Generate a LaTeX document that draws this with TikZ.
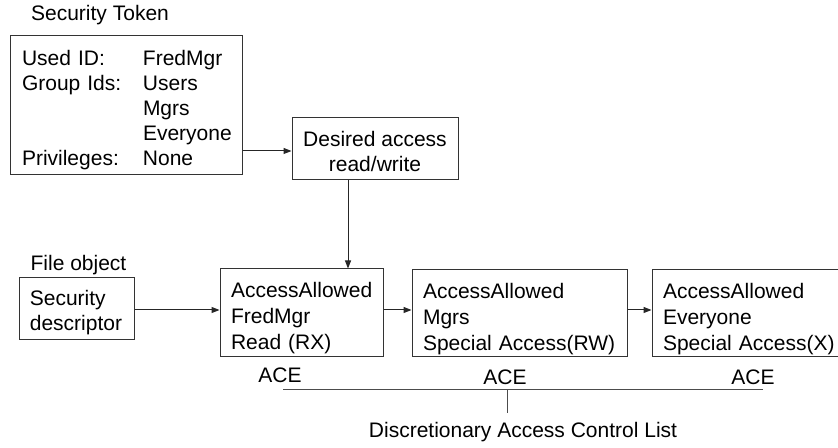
\documentclass[tikz,border=0pt]{standalone}
\usepackage{fontspec}
\setmainfont{Liberation Sans}
\usetikzlibrary{arrows.meta}
\begin{document}
\begin{tikzpicture}[x=0.75pt,y=-0.75pt,
  box/.style={draw=black!80, line width=0.75pt, rectangle, inner sep=0pt},
  btext/.style={font=\fontsize{15.75pt}{18.75pt}\selectfont},
  acetext/.style={font=\fontsize{15.75pt}{19.5pt}\selectfont},
  lbl/.style={inner sep=0pt, font=\fontsize{15.75pt}{18.75pt}\selectfont},
  arr/.style={draw=black!85, line width=0.75pt, -{Triangle[length=6pt,width=4.5pt]}},
  plain/.style={draw=black!70, line width=0.75pt}]
\useasboundingbox (0,0) rectangle (838,448);

% Security token
\node[lbl] (sttitle) at (100,15) {Security Token};
\node[box, btext, minimum width=174pt, minimum height=104.25pt, align=left,
      text width=156pt] (tok) at (126,105.5)
  {\rule{0pt}{17.6pt}\makebox[90.75pt][l]{Used ID:}FredMgr\\
   \makebox[90.75pt][l]{Group Ids:}Users\\
   \makebox[90.75pt][l]{}Mgrs\\
   \makebox[90.75pt][l]{}Everyone\\
   \makebox[90.75pt][l]{Privileges:}None};

% Desired access
\node[box, btext, minimum width=124.5pt, minimum height=46.5pt, align=center] (des) at (375,149)
  {\rule{0pt}{14.6pt}Desired access\\read/write};

% File object
\node[lbl] (fotitle) at (78.5,265) {File object};
\node[box, btext, minimum width=86.25pt, minimum height=46.5pt, align=left,
      text width=70pt] (sd) at (76.5,309)
  {\rule{0pt}{16.1pt}Security\\descriptor};

% ACEs
\node[box, acetext, minimum width=122.25pt, minimum height=66pt, align=left,
      text width=105.75pt] (ace1) at (301.5,313)
  {\rule{0pt}{19.1pt}AccessAllowed\\FredMgr\\Read (RX)};
\node[box, acetext, minimum width=161.25pt, minimum height=65.25pt, align=left,
      text width=144.75pt] (ace2) at (519.5,313.5)
  {\rule{0pt}{19.1pt}AccessAllowed\\Mgrs\\Special Access(RW)};
\node[box, acetext, minimum width=150pt, minimum height=65.25pt, align=left,
      text width=133.5pt] (ace3) at (752,313.5)
  {\rule{0pt}{19.1pt}AccessAllowed\\Everyone\\\mbox{Special Access(X)}};

\node[lbl] (acel1) at (280,375) {ACE};
\node[lbl] (acel2) at (505,377) {ACE};
\node[lbl] (acel3) at (753,377) {ACE};
\node[lbl] (dacl) at (523,432) {Discretionary Access Control List};

% connectors
\coordinate (down) at (348,0);
\coordinate (lineL) at (283,390);
\coordinate (lineR) at (763,390);
\coordinate (tickTop) at (507,390);
\coordinate (tickBot) at (507,413);

\draw[arr] (tok.east |- 0,151) -- (des.west |- 0,151);
\draw[arr] (des.south -| down) -- (ace1.north -| down);
\draw[arr] (sd.east |- 0,310) -- (ace1.west |- 0,310);
\draw[arr] (ace1.east |- 0,310) -- (ace2.west |- 0,310);
\draw[arr] (ace2.east |- 0,310) -- (ace3.west |- 0,310);

\draw[plain] (lineL) -- (lineR);
\draw[plain] (tickTop) -- (tickBot);
\end{tikzpicture}
\end{document}
